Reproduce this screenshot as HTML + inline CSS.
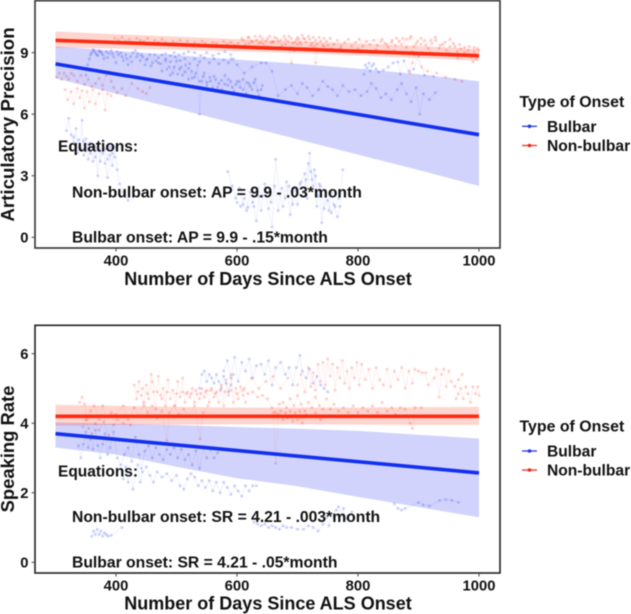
<!DOCTYPE html>
<html lang="en">
<head>
<meta charset="utf-8">
<title>Articulatory Precision and Speaking Rate by Type of Onset</title>
<style>
html,body{margin:0;padding:0;background:#fff;width:631px;height:614px;overflow:hidden}
svg{display:block}
text{font-family:"Liberation Sans",Arial,sans-serif;font-weight:700;fill:#111}
#scene{filter:blur(.4px)}
</style>
</head>
<body>
<svg id="chart" width="631" height="614" viewBox="0 0 631 614" xmlns="http://www.w3.org/2000/svg">
  <g id="scene">
    <g id="ap-marks"></g>
    <g id="sr-marks"></g>
    <rect x="35" y="0.7" width="465" height="247.3" fill="none" stroke="#333" stroke-width="1.6"/>
    <rect x="35" y="325.3" width="465" height="247.7" fill="none" stroke="#222" stroke-width="1.6"/>
    <g id="ap-axes"></g>
    <g id="sr-axes"></g>

    <text x="268" y="285" font-size="18" text-anchor="middle">Number of Days Since ALS Onset</text>
    <text transform="translate(14,124.5) rotate(-90)" font-size="18.7" text-anchor="middle">Articulatory Precision</text>
    <text x="58" y="151.7" font-size="15.5">Equations:</text>
    <text x="72" y="197.3" font-size="15.7">Non-bulbar onset: AP = 9.9 - .03*month</text>
    <text x="72" y="242.7" font-size="15.7">Bulbar onset: AP = 9.9 - .15*month</text>

    <text x="268" y="609.5" font-size="18" text-anchor="middle">Number of Days Since ALS Onset</text>
    <text transform="translate(14,449) rotate(-90)" font-size="18.4" text-anchor="middle">Speaking Rate</text>
    <text x="58" y="476.7" font-size="15.5">Equations:</text>
    <text x="72" y="522" font-size="15.7">Non-bulbar onset: SR = 4.21 - .003*month</text>
    <text x="72" y="567.3" font-size="15.7">Bulbar onset: SR = 4.21 - .05*month</text>

    <g>
      <text x="519.5" y="107" font-size="15.9">Type of Onset</text>
      <line x1="522" x2="537" y1="126.3" y2="126.3" stroke="#3348e0" stroke-width="1.4"/>
      <circle cx="529.5" cy="126.3" r="1.8" fill="#1f38e0"/>
      <text x="547" y="132" font-size="15.6">Bulbar</text>
      <line x1="522" x2="537" y1="145.5" y2="145.5" stroke="#f0402c" stroke-width="1.4"/>
      <circle cx="529.5" cy="145.5" r="1.8" fill="#e82a18"/>
      <text x="547" y="151.2" font-size="15.6">Non-bulbar</text>
    </g>
    <g>
      <text x="519.5" y="431.7" font-size="15.9">Type of Onset</text>
      <line x1="522" x2="537" y1="451" y2="451" stroke="#3348e0" stroke-width="1.4"/>
      <circle cx="529.5" cy="451" r="1.8" fill="#1f38e0"/>
      <text x="547" y="456.7" font-size="15.6">Bulbar</text>
      <line x1="522" x2="537" y1="470" y2="470" stroke="#f0402c" stroke-width="1.4"/>
      <circle cx="529.5" cy="470" r="1.8" fill="#e82a18"/>
      <text x="547" y="475.7" font-size="15.6">Non-bulbar</text>
    </g>
  </g>
</svg>
<script>
// ---------- shared tick labels ----------
const xTickLabels = [400, 600, 800, 1000];
const apYTickLabels = [0, 3, 6, 9];
const srYTickLabels = [0, 2, 4, 6];

// ---------- Articulatory precision: fitted lines and bands ----------
const apFitDays = [300, 1000];
const apBulbarFit = [8.45, 5.0];
const apNonBulbarFit = [9.6, 8.85];
const apBandDays = [300, 400, 500, 600, 700, 800, 900, 1000];
const apBulbarUpper = [9.3, 9.08, 8.88, 8.66, 8.46, 8.22, 7.95, 7.6];
const apBulbarLower = [7.75, 7.0, 6.27, 5.52, 4.78, 4.03, 3.28, 2.5];
const apNonBulbarUpper = [10.03, 9.9, 9.78, 9.66, 9.55, 9.44, 9.32, 9.18];
const apNonBulbarLower = [9.24, 9.2, 9.14, 9.06, 8.98, 8.86, 8.74, 8.6];

// ---------- Articulatory precision: observed trajectories ----------
const apBulbarHigh = [[350,7.9],[353,8.4],[356,8.7],[360,9.0],[364,9.1],[368,8.9],[372,9.1],[376,9.0],[380,8.7],[384,9.05],[388,8.95],[392,9.1],[396,8.8],[400,8.5],[404,8.9],[408,9.0],[412,8.6],[416,8.9],[420,8.4],[424,8.8],[428,9.0],[432,9.1],[436,8.95],[440,8.6],[444,8.8],[448,8.4],[452,8.7],[456,8.9],[460,8.5],[464,8.9],[470,8.75],[476,8.9],[482,8.95],[490,8.85],[496,9.0],[504,8.9],[512,8.95],[520,9.05],[530,9.0],[540,8.85],[550,9.0],[560,8.85],[570,8.95],[580,9.05],[590,8.9]];
const apBulbarHighB = [[358,8.9],[362,9.15],[366,9.0],[370,8.85],[374,9.05],[378,8.9],[386,8.75],[394,8.95],[402,9.05],[410,8.8],[418,8.7],[426,8.55],[434,8.8],[442,8.9],[450,8.65],[458,8.35],[466,8.6],[474,8.45],[482,8.7],[490,8.55],[498,8.8],[506,8.6],[514,8.7],[522,8.45],[530,8.7],[538,8.55],[546,8.75],[554,8.5],[562,8.7],[570,8.45],[578,8.65],[586,8.5],[594,8.7]];
const apBulbarFalling = [[470,8.5],[476,8.1],[482,8.6],[488,8.3],[494,8.0],[500,8.6],[505,8.2],[510,7.9],[515,8.4],[520,7.7],[525,8.1],[530,7.8],[535,8.4],[538,6.0],[542,7.6],[546,8.0],[550,7.4],[555,7.8],[560,7.3],[565,7.7],[570,7.5],[575,7.2],[580,7.9],[585,7.4],[590,7.6],[595,7.1],[600,7.6],[605,7.3],[610,7.7],[615,7.0],[620,7.5],[625,7.2],[630,7.7],[636,6.9],[642,7.4]];
const apBulbarFallingB = [[484,8.2],[490,7.9],[496,8.3],[502,7.95],[508,8.3],[514,8.05],[520,8.25],[526,7.75],[532,8.0],[538,7.6],[544,7.85],[550,7.55],[556,7.6],[562,7.85],[568,7.3],[574,7.65],[580,7.45],[586,7.7],[592,7.3],[598,7.45],[604,7.6],[610,7.2],[616,7.55],[622,7.35],[628,7.55],[634,7.15],[640,7.2]];
const apBulbarTail = [[590,8.7],[600,8.4],[612,8.0],[625,8.3],[640,8.5],[648,8.5],[658,8.1],[668,6.9],[680,7.2],[690,7.4],[700,7.0],[708,7.5],[716,7.3],[725,6.9],[735,7.2],[742,7.6],[750,7.35],[758,7.2],[766,6.9],[775,7.4],[785,7.1],[795,7.2],[805,6.9],[815,7.1],[822,7.5],[830,7.25],[838,6.8],[846,7.0],[855,6.7],[865,7.2],[872,7.5],[880,7.0],[888,6.6],[896,7.3],[902,6.0],[908,7.0],[918,6.7],[928,7.05]];
const apBulbarUpperRight = [[810,7.95],[812,8.4],[815,8.25],[818,8.5],[820,8.1],[823,8.35],[826,8.45],[830,8.2],[834,8.05],[842,8.15],[850,8.3],[858,8.5],[866,8.55],[870,7.95],[876,8.6],[884,8.1],[892,8.2],[900,8.85],[910,7.9],[925,7.85]];
const apBulbarLow1 = [[318,5.2],[322,5.8],[326,5.0],[330,4.6],[334,5.3],[336,4.1],[340,4.4],[344,5.7],[347,4.0],[350,4.8],[354,3.8],[358,4.6],[362,3.7],[366,4.4],[370,3.0],[374,4.2],[378,4.7],[382,3.6],[386,2.9],[390,4.0],[394,3.5],[398,4.4],[402,3.3],[406,2.6],[412,2.2],[420,1.8]];
const apBulbarLow1B = [[330,4.9],[334,4.4],[338,4.75],[342,4.3],[346,4.7],[350,4.2],[354,4.55],[358,4.1],[362,4.35],[366,3.9],[370,4.3],[374,3.7],[378,4.1],[382,4.3],[386,3.8],[390,4.4],[394,4.1],[398,3.9]];
const apBulbarLow2 = [[585,3.2],[592,2.5],[598,1.9],[604,2.4],[610,1.6],[616,1.3],[622,2.2],[628,1.5],[632,0.8],[636,2.0],[640,1.3],[646,2.6],[652,1.4],[658,0.5],[664,3.8],[670,2.1],[676,1.5],[682,2.7],[688,1.1],[694,2.4],[700,1.6],[706,2.7],[712,3.1],[716,1.9],[720,4.1],[724,2.8],[728,3.3],[732,1.5],[736,2.6],[740,0.7],[746,2.0],[752,1.3],[756,2.2],[760,1.6],[766,1.0],[770,1.5],[775,3.3]];
const apBulbarLow2B = [[600,1.7],[606,1.5],[612,1.9],[618,1.45],[626,1.7],[634,2.4],[642,2.0],[650,2.2],[656,1.7],[662,2.5],[668,1.3],[674,2.4],[680,1.9],[686,2.5],[692,1.6],[698,2.3],[704,2.6],[710,2.2],[714,2.8],[718,3.6],[722,3.2],[726,2.5],[730,3.0],[734,2.0],[738,2.5],[744,1.4],[750,1.8],[756,1.2],[762,1.5],[768,1.9]];
const apNonBulbarTop1 = [[398,9.7],[404,9.6],[410,9.75],[416,9.55],[422,9.65],[428,9.5],[434,9.7],[440,9.6],[446,9.55],[452,9.7],[458,9.45],[464,9.6],[470,9.5],[476,9.65],[482,9.5],[488,9.35],[494,9.55],[500,9.45],[506,9.6],[512,9.4],[518,9.55],[524,9.35],[530,9.5],[536,9.4],[542,9.55],[548,9.45],[554,9.3],[560,9.5],[566,9.45],[572,9.3],[578,9.55],[584,9.4],[590,9.5],[596,9.35],[602,9.45],[608,9.7],[614,9.4],[620,9.75],[626,9.5],[632,9.6],[638,9.8],[644,9.4],[650,9.7],[656,9.5],[662,9.75],[668,9.55],[674,9.35],[680,9.65],[686,9.8],[692,9.45],[698,9.65],[704,9.5],[710,9.7]];
const apNonBulbarTop2 = [[700,9.75],[706,9.4],[712,9.65],[718,9.8],[724,9.45],[730,9.6],[736,9.75],[742,9.35],[748,9.55],[754,9.7],[760,9.4],[766,9.6],[772,9.3],[778,9.5],[784,9.65],[790,9.3],[796,9.5],[802,9.65],[808,9.3],[814,9.55],[820,9.4],[826,9.6],[832,9.35],[838,9.55],[844,9.45],[850,9.25],[856,9.5],[862,9.35],[868,9.55],[874,9.7],[880,9.25],[886,9.7],[892,9.3],[898,9.55],[904,9.4],[910,9.6],[916,9.2],[922,9.45],[928,9.6],[934,9.2],[940,9.4],[946,9.1],[952,9.3],[958,9.45],[964,9.05],[970,9.2],[976,9.0],[982,9.1],[988,8.8],[992,9.05],[996,8.7],[1000,9.1]];
const apNonBulbarTop3 = [[610,9.6],[618,9.75],[624,9.55],[630,9.8],[636,9.45],[642,9.7],[648,9.55],[654,9.8],[660,9.5],[666,9.7],[672,9.6],[678,9.8],[684,9.55],[690,9.7],[696,9.5],[702,9.65],[708,9.85],[714,9.5],[720,9.65],[726,9.75],[732,9.4],[738,9.55],[744,9.7],[750,9.35],[840,9.65],[848,9.4],[856,9.6],[864,9.7],[872,9.4],[880,9.65],[888,9.8],[896,9.4],[904,9.7],[912,9.35],[920,9.6],[928,9.75],[936,9.35],[944,9.5],[952,9.65],[960,9.3],[968,9.4],[976,9.25],[984,9.3],[992,9.25],[998,9.2]];
const apNonBulbarDense = [[620,9.45],[630,9.3],[640,9.5],[650,9.3],[660,9.55],[670,9.25],[680,9.4],[690,9.25],[700,9.4],[712,9.2],[722,9.35],[732,9.2],[744,9.3],[756,9.2],[770,9.2],[784,9.1],[800,9.2],[815,9.1],[830,9.15],[845,9.05],[860,9.1],[875,9.0],[890,9.05],[905,9.0],[920,9.0],[935,8.9],[950,8.95],[965,8.75],[980,8.9],[990,8.55],[998,8.85]];
const apNonBulbarDrops = [[685,9.2],[690,8.5],[695,9.1],[728,9.3],[730,8.5],[733,9.1],[884,9.0],[886,8.0],[890,8.5],[893,8.9],[905,8.3],[915,8.1],[930,8.0],[945,7.8],[960,7.7],[972,7.6]];
const apNonBulbarLow1 = [[302,7.8],[306,8.0],[310,7.7],[314,8.0],[318,7.85],[322,7.7],[326,8.0],[330,7.9],[336,7.6],[342,7.9],[348,7.45],[354,7.7],[360,7.35],[366,7.5],[372,7.75],[378,7.4],[384,7.9],[388,8.05],[392,7.6],[396,7.3],[402,7.05],[410,7.25],[416,6.9],[426,7.5],[436,7.25],[444,7.1],[450,7.0],[456,7.3]];
const apNonBulbarLow2 = [[316,7.2],[320,6.7],[326,7.1],[330,6.5],[336,7.25],[340,6.8],[344,7.15],[348,6.3],[352,7.1],[356,6.6],[362,7.2],[366,6.5],[372,7.0],[378,7.2],[382,6.2],[386,7.0],[392,6.9]];

// ---------- Speaking rate: fitted lines and bands ----------
const srFitDays = [300, 1000];
const srBulbarFit = [3.7, 2.57];
const srNonBulbarFit = [4.2, 4.2];
const srBandDays = [300, 400, 500, 600, 700, 800, 900, 1000];
const srBulbarUpper = [4.02, 3.99, 3.95, 3.89, 3.84, 3.78, 3.67, 3.56];
const srBulbarLower = [3.3, 3.1, 2.75, 2.42, 2.19, 1.88, 1.59, 1.29];
const srNonBulbarUpper = [4.53, 4.5, 4.47, 4.45, 4.45, 4.45, 4.46, 4.47];
const srNonBulbarLower = [3.93, 3.95, 3.96, 3.97, 3.97, 3.96, 3.95, 3.95];

// ---------- Speaking rate: observed trajectories ----------
const srBulbarTopA = [[538,5.0],[542,5.4],[546,5.5],[550,5.2],[554,5.4],[558,5.3],[562,5.15],[566,5.4],[570,5.2],[574,5.0],[578,5.35],[582,5.15],[586,4.9],[590,5.1],[594,5.4]];
const srBulbarTopB = [[578,5.5],[584,5.8],[590,5.3],[596,5.9],[602,5.2],[608,5.75],[614,5.5],[620,5.85],[626,5.3],[632,5.65],[640,5.7],[646,5.4],[652,5.8],[658,5.1],[664,5.6],[672,5.75],[680,5.4],[686,5.6],[692,5.1],[698,5.6],[704,5.95],[708,5.5],[714,5.3],[720,5.55],[726,5.15],[732,5.35],[738,5.1],[744,5.0],[750,4.9]];
const srBulbarMid = [[338,3.35],[342,3.0],[346,3.4],[350,3.75],[354,3.3],[358,3.55],[362,3.25],[366,3.8],[370,3.35],[374,3.0],[378,3.4],[382,3.7],[386,3.1],[390,3.3],[396,3.75],[402,3.0],[408,2.8],[414,3.1],[420,3.3],[426,2.9],[432,3.6],[438,3.1],[442,2.7],[448,3.2],[454,3.35],[460,3.0],[466,3.3],[472,3.1],[478,2.95],[484,3.25],[490,3.1],[496,3.3],[502,3.0],[508,3.25],[514,2.95],[520,3.1],[526,2.8],[532,3.2],[538,2.7],[544,3.3],[550,3.0],[556,3.25],[562,3.0],[568,3.15]];
const srBulbarLower2 = [[412,2.4],[416,2.75],[420,2.3],[424,2.6],[428,2.1],[432,2.5],[436,2.8],[440,2.3],[444,2.6],[450,2.75],[456,2.5],[462,2.3],[468,2.6],[476,2.45],[484,2.55],[492,2.35],[500,2.5],[506,2.2],[512,2.1],[518,2.4],[524,2.55],[530,2.45],[536,2.2],[542,2.35],[548,2.15],[554,2.35],[560,2.05],[566,2.3],[572,2.0],[578,2.3],[584,2.15],[590,1.95],[596,2.2],[602,2.05],[608,1.9],[614,2.2],[620,2.05],[626,2.2],[632,2.2]];
const srBulbarClusterA = [[360,0.75],[363,0.9],[366,0.8],[369,0.95],[372,0.8],[375,0.9],[378,0.75],[381,0.85],[384,0.8],[387,0.75],[392,0.78],[410,1.0]];
const srBulbarClusterB = [[628,1.15],[634,1.1],[640,1.05],[646,1.1],[652,1.0],[658,1.05],[664,1.0],[670,0.95],[676,1.05],[682,1.0],[690,1.0],[700,0.95],[710,0.95],[718,1.05],[726,1.0],[734,0.9],[742,1.1],[748,1.3],[752,1.05],[756,1.4],[760,1.3],[764,1.5],[768,1.6],[772,1.35],[776,1.55],[780,1.25],[786,1.35],[790,1.45]];
const srBulbarClusterC = [[860,1.68],[866,1.55],[872,1.5],[878,1.55],[900,1.72],[908,1.65],[918,1.62],[935,1.78],[945,1.8],[955,1.78],[966,1.72]];
const srNonBulbarCloudA = [[340,4.6],[344,4.75],[348,4.55],[352,4.1],[358,4.35],[364,4.5],[372,4.1],[378,4.5],[384,4.2],[392,4.3],[400,4.25],[412,4.5],[420,4.1],[430,4.45],[438,4.2],[446,4.6],[452,4.3],[460,4.5],[468,4.15],[476,4.35],[484,3.5],[488,4.3],[496,4.5],[504,4.25],[512,4.4],[520,4.2],[530,4.5],[539,3.55],[544,4.3],[552,4.5]];
const srNonBulbarCloudB = [[430,5.1],[434,4.7],[438,5.2],[442,4.8],[446,4.5],[450,5.1],[454,4.7],[458,5.4],[462,4.9],[466,4.4],[470,5.35],[474,4.8],[478,5.0],[482,4.5],[486,5.25],[490,4.7],[494,4.95],[498,4.5],[502,5.2],[506,4.75],[510,5.3],[514,4.6],[518,4.9],[522,4.75],[526,5.0],[530,4.6],[534,4.85],[538,4.7],[542,5.0],[546,4.75],[550,4.95],[554,4.6],[558,5.0],[562,4.75],[566,4.9],[570,4.6],[574,5.1],[578,4.5],[582,5.25],[586,4.8],[590,5.4],[594,4.6],[598,5.0],[602,4.7],[606,5.05],[610,4.8],[614,4.6]];
const srNonBulbarCloudC = [[436,4.9],[444,5.0],[452,4.85],[460,5.2],[468,4.9],[476,4.7],[484,4.9],[500,4.85],[510,4.9],[516,4.85],[524,4.85],[532,4.95],[540,4.85],[548,4.9],[556,4.95],[564,4.85],[572,4.95],[580,4.9],[590,4.95],[600,4.85],[612,5.0],[624,5.3],[636,5.0],[648,5.2],[660,5.35],[672,5.0],[684,5.3]];
const srNonBulbarWave = [[610,4.95],[618,4.85],[626,4.9],[634,4.75],[642,4.8],[650,4.7],[658,4.45],[664,4.3],[670,4.55],[676,4.6],[682,4.45],[688,4.7],[694,4.5],[700,4.8],[706,4.55],[712,4.35],[718,4.6],[724,4.45],[730,4.75],[736,4.5],[742,4.4],[748,4.7],[754,4.4],[760,4.55],[768,4.35],[776,4.45],[784,4.3],[792,4.5],[800,4.3],[808,4.45],[816,4.35],[824,4.5],[832,4.3],[840,4.6],[848,4.35],[856,4.45],[862,4.25],[870,4.45],[878,4.4],[886,4.0],[890,3.85],[894,4.45],[905,4.45]];
const srNonBulbarDense = [[660,4.3],[664,2.85],[668,4.25],[672,4.35],[676,4.1],[680,4.3],[684,4.15],[688,4.35],[692,4.05],[696,4.3],[700,4.1],[704,4.35],[708,4.0],[714,4.25],[722,4.2],[730,4.3],[738,4.1],[746,4.2]];
const srNonBulbarHighA = [[700,5.1],[706,5.4],[712,4.9],[718,5.6],[722,5.05],[726,5.45],[730,4.95],[734,5.7],[738,5.2],[742,5.75],[746,5.1],[750,5.85],[754,5.35],[758,5.7],[762,4.95],[766,5.6],[770,5.3],[774,5.8],[778,5.15],[782,5.5],[786,5.0],[790,5.6],[794,5.3],[798,5.75],[802,5.1],[806,5.7],[812,5.25],[818,5.55],[824,5.0],[830,5.6],[836,5.25],[842,5.1],[848,5.55],[854,5.05],[860,5.5],[866,5.25],[872,5.6],[878,5.0],[884,5.5],[890,5.15],[894,5.55],[900,5.5],[906,5.45],[912,5.45],[916,5.1],[926,5.3],[930,5.55],[934,4.75],[938,5.4],[942,5.55],[946,5.05],[950,5.5],[954,5.2],[960,5.05],[966,5.25],[972,5.4]];
const srNonBulbarEnd = [[962,4.7],[966,4.85],[970,5.0],[974,4.7],[978,5.05],[982,4.85],[986,4.6],[990,5.05],[994,4.85],[998,5.05],[1000,4.8]];
const srNonBulbarLowLeft = [[345,3.9],[350,4.1],[355,3.85],[360,3.7],[366,4.0],[372,3.8],[380,4.05],[388,3.65],[396,3.95],[402,4.1],[412,4.0],[424,3.95]];

// ---------- scales ----------
function dayToX(d) { return 116 + (d - 400) * 0.605; }
function apToY(v) { return 237.3 - v * 20.52; }
function srToY(v) { return 562.3 - v * 34.77; }

const NS = 'http://www.w3.org/2000/svg';
const BLUE = '#1230ee';
const RED = '#ff2a10';

function polyPoints(days, values, yFn) {
  return days.map(function (d, i) { return dayToX(d).toFixed(1) + ',' + yFn(values[i]).toFixed(1); });
}

function drawBand(parent, days, upper, lower, yFn, color, name) {
  const pts = polyPoints(days, upper, yFn).concat(polyPoints(days, lower, yFn).reverse());
  const el = document.createElementNS(NS, 'polygon');
  
  
  el.setAttribute('points', pts.join(' '));
  el.setAttribute('fill', color);
  el.setAttribute('fill-opacity', '0.19');
  parent.appendChild(el);
}

function drawFit(parent, days, values, yFn, color, name) {
  const el = document.createElementNS(NS, 'polyline');
  
  
  el.setAttribute('points', polyPoints(days, values, yFn).join(' '));
  el.setAttribute('fill', 'none');
  el.setAttribute('stroke', color);
  el.setAttribute('stroke-width', '3.6');
  parent.appendChild(el);
}

function drawTrajectory(parent, series, yFn, color, name, alpha) {
  const group = document.createElementNS(NS, 'g');
  
  
  const line = document.createElementNS(NS, 'polyline');
  
  
  line.setAttribute('points', series.map(function (p) {
    return dayToX(p[0]).toFixed(1) + ',' + yFn(p[1]).toFixed(1);
  }).join(' '));
  line.setAttribute('fill', 'none');
  line.setAttribute('stroke', color);
  line.setAttribute('stroke-width', '0.7');
  line.setAttribute('stroke-opacity', alpha * 0.5);
  group.appendChild(line);
  series.forEach(function (p) {
    const dot = document.createElementNS(NS, 'circle');
    
    
    dot.setAttribute('cx', dayToX(p[0]).toFixed(1));
    dot.setAttribute('cy', yFn(p[1]).toFixed(1));
    dot.setAttribute('r', '1.5');
    dot.setAttribute('fill', color);
    dot.setAttribute('fill-opacity', alpha);
    group.appendChild(dot);
  });
  parent.appendChild(group);
}

function drawAxes(parent, yTicks, yFn, axisBottom, labelBaseline, prefix) {
  xTickLabels.forEach(function (t) {
    const tick = document.createElementNS(NS, 'line');
    
    
    tick.setAttribute('x1', dayToX(t));
    tick.setAttribute('x2', dayToX(t));
    tick.setAttribute('y1', axisBottom);
    tick.setAttribute('y2', axisBottom + 3.5);
    tick.setAttribute('stroke', '#444');
    tick.setAttribute('stroke-width', '1');
    parent.appendChild(tick);
    const label = document.createElementNS(NS, 'text');
    
    
    label.setAttribute('x', dayToX(t));
    label.setAttribute('y', labelBaseline);
    label.setAttribute('font-size', '14.8');
    label.setAttribute('text-anchor', 'middle');
    label.textContent = t;
    parent.appendChild(label);
  });
  yTicks.forEach(function (t) {
    const tick = document.createElementNS(NS, 'line');
    
    
    tick.setAttribute('x1', 31.5);
    tick.setAttribute('x2', 35);
    tick.setAttribute('y1', yFn(t));
    tick.setAttribute('y2', yFn(t));
    tick.setAttribute('stroke', '#444');
    tick.setAttribute('stroke-width', '1');
    parent.appendChild(tick);
    const label = document.createElementNS(NS, 'text');
    
    
    label.setAttribute('x', 28.5);
    label.setAttribute('y', yFn(t) + 5.4);
    label.setAttribute('font-size', '14.8');
    label.setAttribute('text-anchor', 'end');
    label.textContent = t;
    parent.appendChild(label);
  });
}

// ---------- draw articulatory precision ----------
const apMarks = document.getElementById('ap-marks');
[apBulbarHigh, apBulbarHighB, apBulbarFalling, apBulbarFallingB, apBulbarTail, apBulbarUpperRight, apBulbarLow1, apBulbarLow1B, apBulbarLow2, apBulbarLow2B].forEach(function (s) {
  drawTrajectory(apMarks, s, apToY, BLUE, 'ap-bulbar-trajectory', 0.2);
});
[apNonBulbarTop1, apNonBulbarTop2, apNonBulbarTop3, apNonBulbarDense, apNonBulbarDrops, apNonBulbarLow1, apNonBulbarLow2].forEach(function (s) {
  drawTrajectory(apMarks, s, apToY, '#ff2a10', 'ap-non-bulbar-trajectory', 0.2);
});
drawBand(apMarks, apBandDays, apBulbarUpper, apBulbarLower, apToY, '#0a14f0', 'ap-bulbar-confidence-band');
drawBand(apMarks, apBandDays, apNonBulbarUpper, apNonBulbarLower, apToY, '#ff2000', 'ap-non-bulbar-confidence-band');
drawFit(apMarks, apFitDays, apBulbarFit, apToY, BLUE, 'ap-bulbar-fit-line');
drawFit(apMarks, apFitDays, apNonBulbarFit, apToY, RED, 'ap-non-bulbar-fit-line');
drawAxes(document.getElementById('ap-axes'), apYTickLabels, apToY, 248, 265.7, 'ap');

// ---------- draw speaking rate ----------
const srMarks = document.getElementById('sr-marks');
[srBulbarTopA, srBulbarTopB, srBulbarMid, srBulbarLower2, srBulbarClusterA, srBulbarClusterB, srBulbarClusterC].forEach(function (s) {
  drawTrajectory(srMarks, s, srToY, BLUE, 'sr-bulbar-trajectory', 0.2);
});
[srNonBulbarCloudA, srNonBulbarCloudB, srNonBulbarCloudC, srNonBulbarWave, srNonBulbarDense, srNonBulbarHighA, srNonBulbarEnd, srNonBulbarLowLeft].forEach(function (s) {
  drawTrajectory(srMarks, s, srToY, '#ff2a10', 'sr-non-bulbar-trajectory', 0.2);
});
drawBand(srMarks, srBandDays, srBulbarUpper, srBulbarLower, srToY, '#0a14f0', 'sr-bulbar-confidence-band');
drawBand(srMarks, srBandDays, srNonBulbarUpper, srNonBulbarLower, srToY, '#ff2000', 'sr-non-bulbar-confidence-band');
drawFit(srMarks, srFitDays, srBulbarFit, srToY, BLUE, 'sr-bulbar-fit-line');
drawFit(srMarks, srFitDays, srNonBulbarFit, srToY, RED, 'sr-non-bulbar-fit-line');
drawAxes(document.getElementById('sr-axes'), srYTickLabels, srToY, 573, 590.7, 'sr');
</script>
</body>
</html>
